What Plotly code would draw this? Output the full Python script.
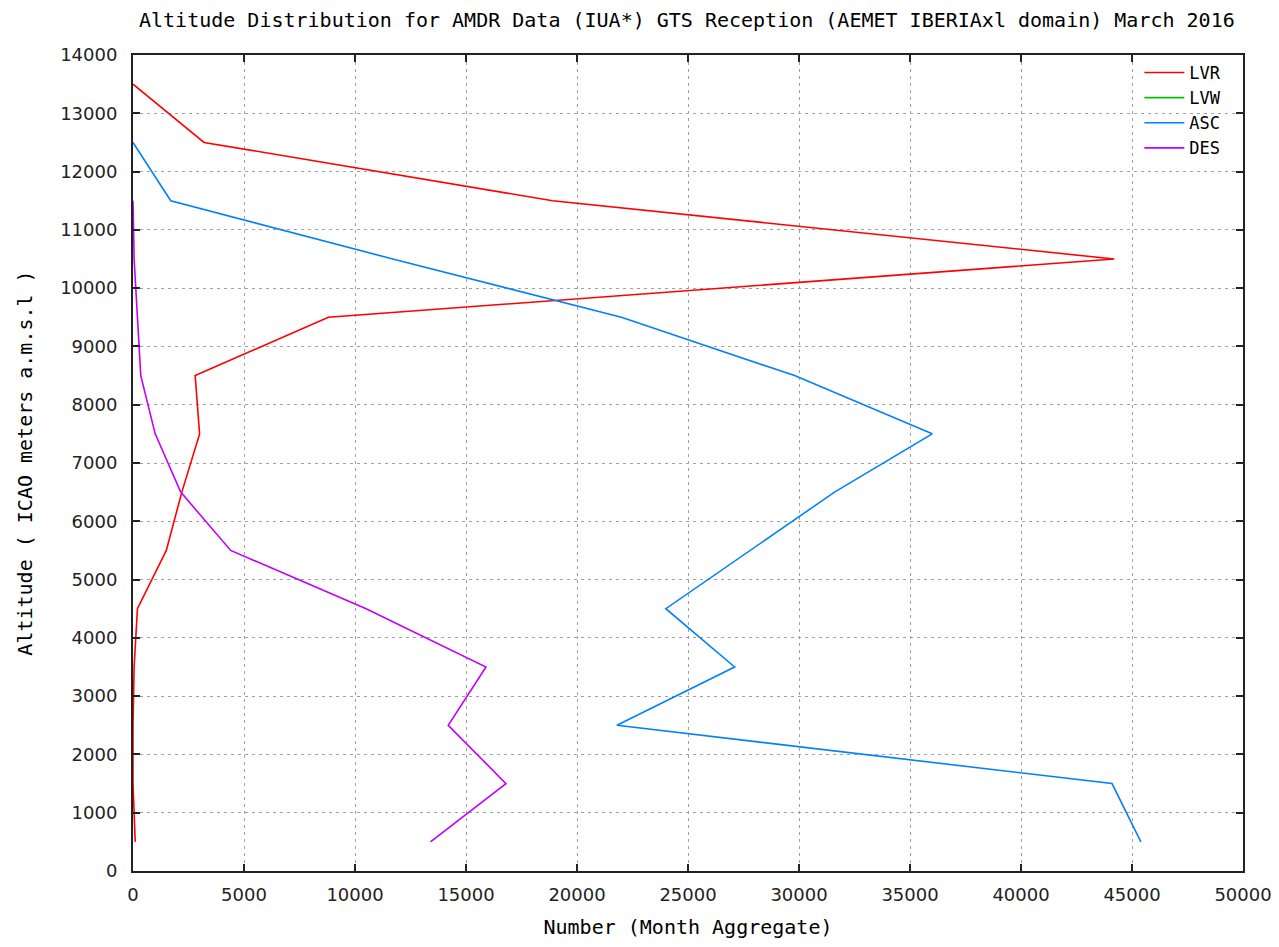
import plotly.graph_objects as go

title_text = "Altitude Distribution for AMDR Data (IUA*) GTS Reception (AEMET IBERIAxl domain) March 2016"

altitude = [500, 1500, 2500, 3500, 4500, 5500, 6500, 7500, 8500, 9500, 10500, 11500, 12500, 13500]

lvr = [100, 0, 0, 50, 200, 1500, 2200, 3000, 2800, 8800, 44200, 18900, 3200, 0]
lvw = [None, None, None, None, None, None, None, None, None, None, None, None, None, None]
asc = [45400, 44100, 21800, 27100, 24000, 27800, 31600, 36000, 29800, 22000, 11700, 1700, 0, None]
des = [13400, 16800, 14200, 15900, 10500, 4400, 2150, 1000, 350, 200, 50, 0, None, None]

x_ticks = list(range(0, 50001, 5000))
y_ticks = list(range(0, 14001, 1000))

series = [
    ("LVR", lvr, "#ff0000"),
    ("LVW", lvw, "#00c000"),
    ("ASC", asc, "#0080ff"),
    ("DES", des, "#c000ff"),
]

fig = go.Figure()
for name, vals, color in series:
    fig.add_trace(go.Scatter(
        x=vals,
        y=altitude[:len(vals)],
        mode="lines",
        name=name,
        line=dict(color=color, width=1.6),
    ))

mono = "DejaVu Sans Mono"
sans = "DejaVu Sans"

fig.update_layout(
    width=1263,
    height=931,
    paper_bgcolor="white",
    plot_bgcolor="white",
    margin=dict(l=125, r=28, t=47, b=68, autoexpand=False),
    title=dict(text=title_text, x=0.5375, xanchor="center", y=0.987, yanchor="middle",
               font=dict(family=mono, size=20, color="black")),
    showlegend=True,
    legend=dict(
        x=0.985, xanchor="right", y=1.0, yanchor="top",
        bgcolor="rgba(0,0,0,0)",
        font=dict(family=mono, size=17, color="black"),
        tracegroupgap=0,
        itemwidth=40,
    ),
)

fig.update_xaxes(
    range=[0, 50000],
    tickvals=x_ticks,
    ticktext=[str(v) for v in x_ticks],
    showgrid=True, gridcolor="#a0a0a0", griddash="3px,4px", gridwidth=1,
    zeroline=False,
    showline=True, linecolor="#222222", linewidth=2, mirror="ticks",
    ticks="inside", ticklen=7, tickwidth=2, tickcolor="#222222",
    ticklabelstandoff=6, ticklabeloverflow="allow",
    automargin=False,
    tickfont=dict(family=sans, size=18, color="#222222"),
    title=dict(text="Number (Month Aggregate)", font=dict(family=mono, size=20, color="black"), standoff=27),
)
fig.update_yaxes(
    range=[0, 14000],
    tickvals=y_ticks,
    ticktext=[str(v) for v in y_ticks],
    showgrid=True, gridcolor="#a0a0a0", griddash="3px,4px", gridwidth=1,
    zeroline=False,
    showline=True, linecolor="#222222", linewidth=2, mirror="ticks",
    ticks="inside", ticklen=7, tickwidth=2, tickcolor="#222222",
    ticklabelstandoff=10, ticklabeloverflow="allow",
    automargin=False,
    tickfont=dict(family=sans, size=18, color="#222222"),
    title=dict(text="Altitude ( ICAO meters a.m.s.l )", font=dict(family=mono, size=20, color="black"), standoff=22),
)

fig.write_html("out.html")
